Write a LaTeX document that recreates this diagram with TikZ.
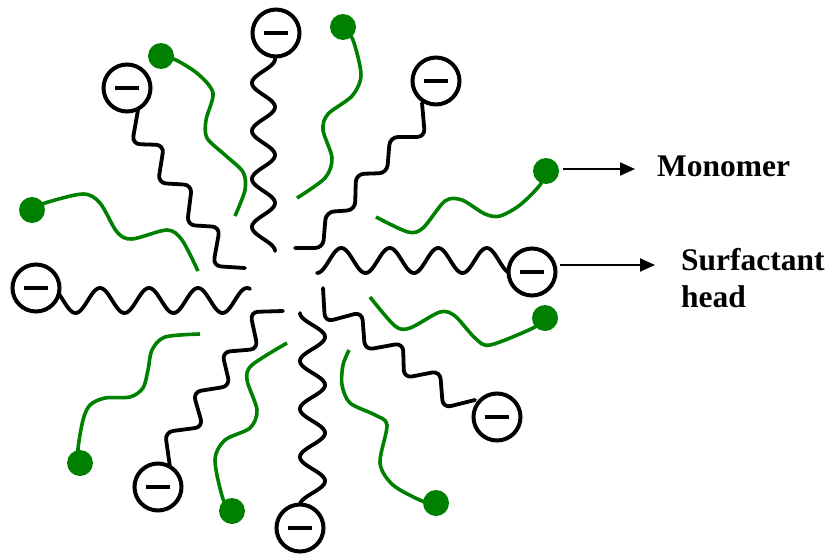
\documentclass[tikz,border=0pt]{standalone}
\usepackage{fontspec}
\setmainfont{Liberation Serif}
\usetikzlibrary{arrows.meta}
\definecolor{monogreen}{RGB}{0,128,0}
\newcommand\minusbar{\rule{24pt}{4pt}\hspace{4pt}}
\begin{document}
\begin{tikzpicture}[x=1pt,y=-1pt,
  stair/.style={line width=3.8pt, black, line cap=round, rounded corners=8pt},
  wave/.style={line width=3.8pt, black, line cap=round},
  tail/.style={line width=3.6pt, monogreen},
  anion/.style={circle, draw=black, fill=white, line width=4pt, minimum size=47pt, inner sep=0pt},
  monodot/.style={circle, fill=monogreen, minimum size=26pt, inner sep=0pt},
  pointer/.style={line width=2pt, -{Triangle[length=15pt,width=13pt]}},
  lbl/.style={font=\bfseries\fontsize{31.5}{37}\selectfont, anchor=base west, inner sep=0pt}]
\useasboundingbox (0,0) rectangle (830,554);

% ---- surfactant tails (black) ----
% straight sine tails (phase in degrees per pixel: 360/period)
\draw[wave] plot[domain=57:251, samples=140, variable=\t] ({263.5+11.5*cos(7.5*(\t-107))}, \t);
\draw[wave] plot[domain=313:505, samples=140, variable=\t] ({312.5-12.5*cos(7.5*(\t-313))}, \t);
\draw[wave] plot[domain=50:250, samples=140, variable=\t] (\t, {300.5-12.5*cos(7.347*(\t-100))});
\draw[wave] plot[domain=317:512, samples=140, variable=\t] (\t, {260.5+12.5*cos(7.423*(\t-317))});
% staircase tails
\draw[stair] (138,110) -- (132,144) -- (164,145) -- (158,183) -- (192,185)
  -- (187,225) -- (220,227) -- (213,266) -- (245,268);
\draw[stair] (422,103) -- (425,137) -- (390,137) -- (387,173) -- (356,174)
  -- (355,210) -- (326,212) -- (323,248) -- (295,248);
\draw[stair] (323,288) -- (325,322) -- (362,312) -- (365,350) -- (403,343)
  -- (404,378) -- (440,371) -- (443,408) -- (475,400);
\draw[stair] (170,467) -- (165,432) -- (203,427) -- (193,392) -- (230,386)
  -- (222,352) -- (258,349) -- (250,312) -- (283,311);

% ---- monomer tails (green) ----
\draw[tail] plot[smooth] coordinates {(343,27) (353,40) (361,75) (352,96) (328,114) (323,130) (332,158) (325,178) (297,198)};
\draw[tail] plot[smooth] coordinates {(161,56) (176,60) (198,74) (213,93) (206,120) (207,138) (225,155) (243,172) (245,190) (235,216)};
\draw[tail] plot[smooth] coordinates {(32,210) (45,203) (83,194) (100,203) (117,232) (132,239) (167,230) (182,240) (198,271)};
\draw[tail] plot[smooth] coordinates {(546,171) (540,185) (520,205) (500,216) (485,214) (462,200) (445,201) (423,228) (408,232) (376,217)};
\draw[tail] plot[smooth] coordinates {(545,318) (533,328) (490,345) (475,338) (455,316) (440,312) (410,328) (395,326) (370,297)};
\draw[tail] plot[smooth] coordinates {(436,503) (422,501) (393,485) (380,463) (387,425) (375,415) (350,403) (342,385) (343,365) (349,350)};
\draw[tail] plot[smooth] coordinates {(232,511) (223,499) (215,460) (225,440) (250,428) (257,410) (247,380) (252,365) (287,343)};
\draw[tail] plot[smooth] coordinates {(80,463) (78,449) (83,420) (90,405) (105,398) (130,397) (143,388) (148,370) (152,350) (165,337) (200,334)};

% ---- heads ----
\node[anion] (h1) at (276,33) {\minusbar};
\node[anion] (h2) at (127,88) {\minusbar};
\node[anion] (h3) at (436,81) {\minusbar};
\node[anion] (h4) at (36,288) {\minusbar};
\node[anion] (h5) at (532,272) {\minusbar};
\node[anion] (h6) at (497,417) {\minusbar};
\node[anion] (h7) at (158,487) {\minusbar};
\node[anion] (h8) at (300,528) {\minusbar};

\node[monodot] (m1) at (343,27) {};
\node[monodot] (m2) at (161,56) {};
\node[monodot] (m3) at (32,210) {};
\node[monodot] (m4) at (546,171) {};
\node[monodot] (m5) at (545,318) {};
\node[monodot] (m6) at (436,503) {};
\node[monodot] (m7) at (232,511) {};
\node[monodot] (m8) at (80,463) {};

% ---- labels ----
\node[lbl] (monolbl) at (657,176) {Monomer};
\node[lbl] (surflbl) at (681,270) {Surfactant};
\node[lbl] (headlbl) at (681,307) {head};
\coordinate (ma) at (563,169);
\coordinate (mb) at (635,169);
\coordinate (sa) at (560,265);
\coordinate (sb) at (655,265);
\draw[pointer] (ma) -- (mb);
\draw[pointer] (sa) -- (sb);
\end{tikzpicture}
\end{document}
